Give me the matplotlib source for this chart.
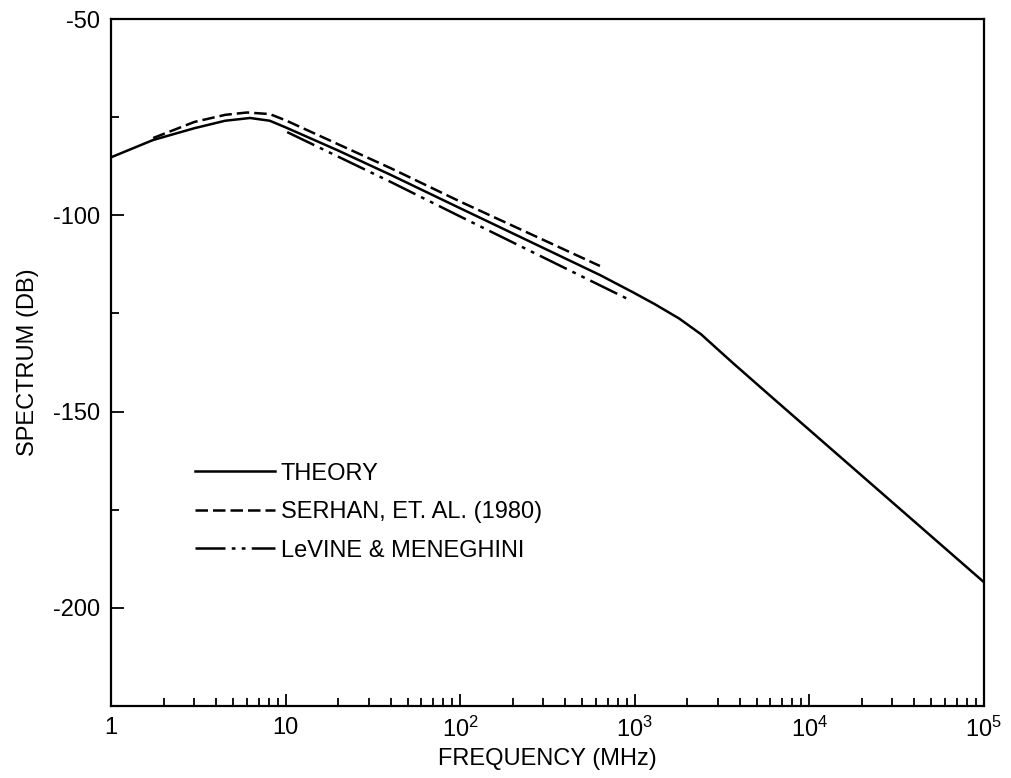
import matplotlib.pyplot as plt
from matplotlib.ticker import FixedLocator, NullFormatter

plt.rcParams['font.family'] = ['Liberation Sans', 'DejaVu Sans']
plt.rcParams['mathtext.fontset'] = 'custom'
plt.rcParams['mathtext.rm'] = 'Liberation Sans'

# theory curve
theory_f = [1, 1.74, 3, 4.5, 6.25, 8.1, 10, 20, 40, 100, 632, 977, 1300, 1800, 2400, 3650, 6170, 1e5]
theory_db = [-85.2, -80.8, -77.8, -75.9, -75.2, -75.9, -77.6, -83.5, -89.7, -98.2,
             -115.2, -119.6, -122.6, -126.3, -130.3, -137.6, -146.5, -193.4]

# Serhan et al. (1980)
serhan_f = [1.74, 3, 4.5, 6, 8.1, 10, 40, 100, 632]
serhan_db = [-80.3, -76.2, -74.4, -73.8, -74.2, -75.8, -88.0, -96.5, -112.9]

# LeVine & Meneghini
levine_f = [10.2, 40, 100, 940]
levine_db = [-78.8, -91.5, -100.3, -121.6]

xticks = [1, 10, 1e2, 1e3, 1e4, 1e5]
xticklabels = ['1', '10', r'$\mathregular{10^2}$', r'$\mathregular{10^3}$',
               r'$\mathregular{10^4}$', r'$\mathregular{10^5}$']
yticks = [-50, -100, -150, -200]

fig = plt.figure(figsize=(10.11, 7.78), dpi=100)
ax = fig.add_axes([0.110, 0.0925, 0.863, 0.883])

lw = 1.8
ax.plot(theory_f, theory_db, color='black', lw=lw, label='THEORY')
ax.plot(serhan_f, serhan_db, color='black', lw=lw, linestyle=(0, (5, 2)),
        label='SERHAN, ET. AL. (1980)')
ax.plot(levine_f, levine_db, color='black', lw=lw,
        linestyle=(0, (12, 2.5, 1.5, 2.5, 1.5, 2.5)), label='LeVINE & MENEGHINI')

ax.set_xscale('log')
ax.set_xlim(1, 1e5)
ax.set_ylim(-225, -50)

ax.set_xticks(xticks)
ax.set_xticklabels(xticklabels, fontsize=17)
ax.set_yticks(yticks)
ax.set_yticklabels([str(v) for v in yticks], fontsize=17)
ax.yaxis.set_minor_locator(FixedLocator([-75, -125, -175]))
ax.xaxis.set_minor_formatter(NullFormatter())

ax.tick_params(axis='both', which='major', direction='in', length=9, width=1.3, pad=8)
ax.tick_params(axis='both', which='minor', direction='in', length=6, width=1.3)
ax.tick_params(top=False, right=False, which='both')

for s in ax.spines.values():
    s.set_linewidth(1.6)

ax.set_xlabel('FREQUENCY (MHz)', fontsize=17, labelpad=4)
ax.set_ylabel('SPECTRUM (DB)', fontsize=17, labelpad=10)

ax.legend(loc='upper left', bbox_to_anchor=(0.085, 0.368), frameon=False,
          fontsize=17, handlelength=3.4, handletextpad=0.25, labelspacing=0.7,
          borderaxespad=0)

fig.savefig('out.png', dpi=100)
